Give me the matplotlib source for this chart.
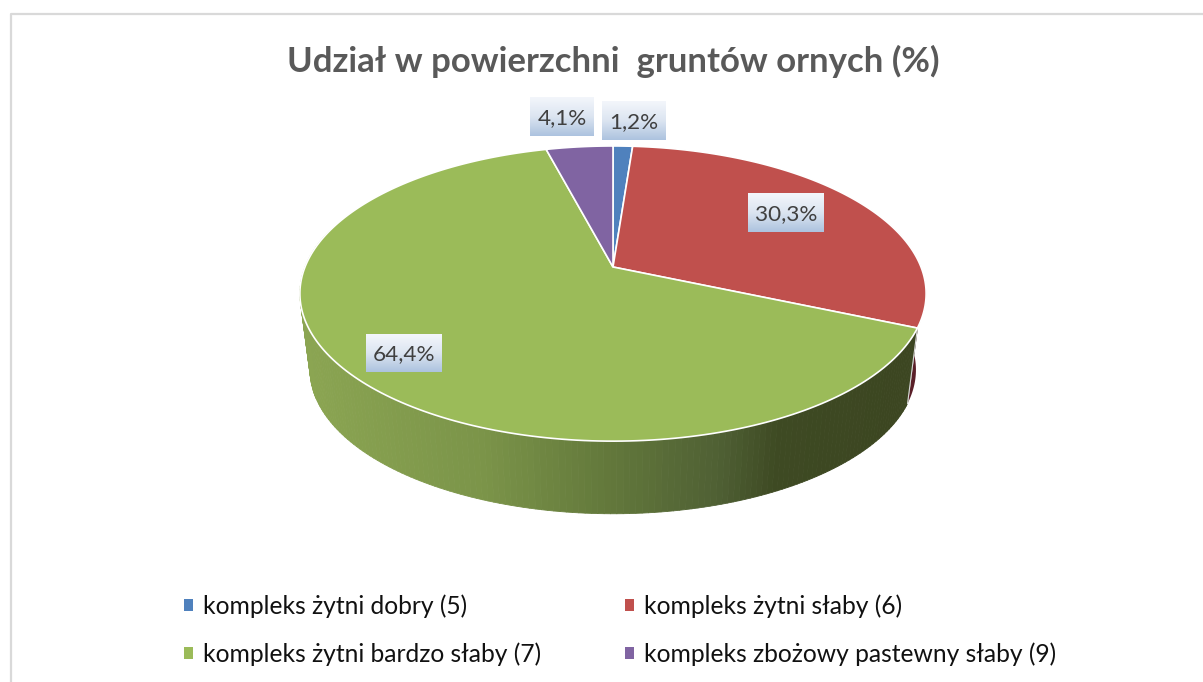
import matplotlib
matplotlib.use('Agg')
import matplotlib.pyplot as plt
import numpy as np
from matplotlib.collections import PolyCollection
from matplotlib.colors import LinearSegmentedColormap
from matplotlib.patches import Patch, Polygon

plt.rcParams['font.family'] = ['Lato', 'DejaVu Sans']

title = 'Udział w powierzchni  gruntów ornych (%)'
categories = ['kompleks żytni dobry (5)', 'kompleks żytni słaby (6)',
              'kompleks żytni bardzo słaby (7)', 'kompleks zbożowy pastewny słaby (9)']
values = [1.2, 30.3, 64.4, 4.1]
value_labels = ['1,2%', '30,3%', '64,4%', '4,1%']
colors = ['#4f81bd', '#c0504d', '#9bbb59', '#8064a2']
label_boxes = [(602, 666, 101, 140), (748, 824, 193, 232), (366, 442, 334, 372), (530, 594, 97, 136)]

# perspective of the pie, measured in image pixels
cx, cy = 613, 267
persp = 0.18
top_w, top_h = 308, 142.8
bot_w, bot_h, bot_y = 298, 139.2, 344


def top_pt(deg):
    t = np.radians(deg)
    d = 1 + persp * np.cos(t)
    return cx + top_w * np.sin(t) / d, cy - top_h * np.cos(t) / d


def bot_pt(deg):
    t = np.radians(deg)
    d = 1 + persp * np.cos(t)
    return cx + bot_w * np.sin(t) / d, bot_y - bot_h * np.cos(t) / d


fig = plt.figure(figsize=(12.03, 6.82), dpi=100)
ax = fig.add_axes([0, 0, 1, 1])
ax.axis('off')

edges = np.concatenate([[0], np.cumsum(values)]) / sum(values) * 360

# side wall, shaded left to right
green_side = LinearSegmentedColormap.from_list(
    'side', [(0, '#8ba552'), (0.3, '#7b9449'), (0.5, '#647a3c'), (0.7, '#4f6034'), (0.8, '#3e4a23'), (1, '#3c4621')])
angles = np.arange(edges[2], edges[3], 1.0)
quads = []
quad_colors = []
for a in angles:
    if a > 285:
        continue
    x1, y1 = top_pt(a)
    x2, y2 = top_pt(a + 1)
    x3, y3 = bot_pt(a + 1)
    x4, y4 = bot_pt(a)
    quads.append([(x1, y1), (x2, y2), (x3, y3), (x4, y4)])
    quad_colors.append(green_side(((x1 + x2) / 2 - 300) / 600))
ax.add_collection(PolyCollection(quads, facecolors=quad_colors, edgecolors=quad_colors, linewidths=0.6, zorder=1))

# sliver of the red slice wall on the right
red_angles = np.arange(75, edges[2] + 0.5, 1.0)
red_side = [top_pt(a) for a in red_angles] + [bot_pt(a) for a in red_angles[::-1]]
ax.add_patch(Polygon(red_side, closed=True, facecolor='#5a1f28', edgecolor='none', zorder=0.9))

# top face
for i in range(len(values)):
    arc = np.linspace(edges[i], edges[i + 1], 200)
    pts = [(cx, cy)] + [top_pt(a) for a in arc]
    ax.add_patch(Polygon(pts, closed=True, facecolor=colors[i], edgecolor='white', linewidth=1.2, zorder=2))

# wall separator between red and green
x_a, y_a = top_pt(edges[2])
x_b, y_b = bot_pt(edges[2])
ax.plot([x_a, x_b], [y_a, y_b], color='#d8d8d8', lw=0.8, zorder=1.5)

# data labels on gradient boxes
grad = LinearSegmentedColormap.from_list('lab', ['#f3f6fb', '#dce5f1', '#adc3df'])
gradient = np.linspace(0, 1, 64).reshape(-1, 1)
for lab, (x0, x1, y0, y1) in zip(value_labels, label_boxes):
    ax.imshow(gradient, cmap=grad, extent=(x0, x1, y1, y0), aspect='auto', zorder=3)
    ax.text((x0 + x1) / 2, (y0 + y1) / 2 + 1.5, lab, ha='center', va='center',
            fontsize=16.2, color='#404040', zorder=4)

ax.text(613, 61, title, ha='center', va='center', fontsize=25, fontweight='bold', color='#595959')

# chart frame: only left and top show in the crop
ax.plot([11, 11, 1203], [682, 14, 14], color='#d9d9d9', lw=1.6, solid_capstyle='butt')

handles = [Patch(facecolor=c, edgecolor='none') for c in colors]
order = [0, 2, 1, 3]
ax.legend([handles[i] for i in order], [categories[i] for i in order],
          ncol=2, frameon=False, fontsize=17.7, loc='upper left', bbox_to_anchor=(184 / 1203, 1 - 594 / 682),
          borderaxespad=0, borderpad=0, handlelength=0.38, handleheight=0.38, handletextpad=0.39,
          labelspacing=1.0, columnspacing=3.41, labelcolor='#111111')

ax.set_xlim(0, 1203)
ax.set_ylim(682, 0)
fig.savefig('out.png', dpi=100)
